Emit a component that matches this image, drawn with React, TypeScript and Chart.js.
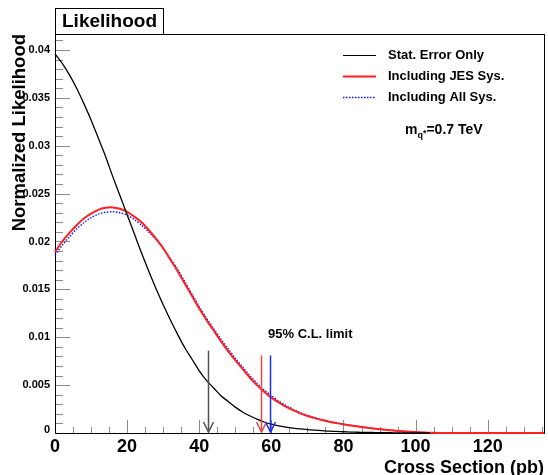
import React, { useEffect, useRef } from "react";
import { Chart, registerables } from "chart.js";
Chart.register(...registerables);

// ---------- data ----------
const xValues = [
  0, 2, 4, 6, 8, 10, 12, 14, 16, 18, 20, 22, 24, 26, 28, 30, 32, 34, 36, 38,
  40, 42, 44, 46, 48, 50, 52, 54, 56, 58, 60, 62, 64, 66, 68, 70, 72, 74, 76,
  78, 80, 82, 84, 86, 88, 90, 92, 94, 96, 98, 100, 102, 104,
];
const statOnly = [
  0.0396, 0.0386, 0.0374, 0.036, 0.0344, 0.0327, 0.0308, 0.0289, 0.0268, 0.0248,
  0.0228, 0.0208, 0.0188, 0.0169, 0.0151, 0.0134, 0.0118, 0.0103, 0.0089, 0.0077,
  0.0065, 0.0055, 0.0047, 0.0039, 0.0033, 0.0027, 0.0022, 0.0018, 0.00145, 0.00115,
  0.00092, 0.00075, 0.00062, 0.00051, 0.00042, 0.00035, 0.00029, 0.00024, 0.00019,
  0.00016, 0.00013, 0.0001, 0.00008, 0.00006, 0.00005, 0.00004, 0.00003, 0.00002,
  0.00002, 0.00001, 0.00001, 0, 0,
];
const jesSys = [
  0.0189, 0.02, 0.0209, 0.0217, 0.0224, 0.0229, 0.0233, 0.02352, 0.02356, 0.02342,
  0.0231, 0.0226, 0.022, 0.0212, 0.0203, 0.0193, 0.0181, 0.0169, 0.0156, 0.0143,
  0.013, 0.0118, 0.0107, 0.0096, 0.00855, 0.0076, 0.0067, 0.0058, 0.005, 0.0043,
  0.0037, 0.0032, 0.00275, 0.00238, 0.00205, 0.00178, 0.00155, 0.00135, 0.00118,
  0.00103, 0.0009, 0.00078, 0.00067, 0.00057, 0.00048, 0.0004, 0.00032, 0.00025,
  0.00019, 0.00014, 0.0001, 0.00006, 0.00003,
];
const allSys = [
  0.0186, 0.0196, 0.0205, 0.0213, 0.02195, 0.0225, 0.02285, 0.02305, 0.0231, 0.023,
  0.02275, 0.0223, 0.0217, 0.021, 0.0202, 0.0193, 0.0182, 0.0171, 0.0158, 0.0145,
  0.0132, 0.012, 0.0109, 0.0098, 0.0088, 0.0078, 0.0069, 0.006, 0.0052, 0.0045,
  0.0039, 0.00335, 0.00288, 0.00248, 0.00213, 0.00184, 0.0016, 0.0014, 0.00122,
  0.00107, 0.00094, 0.00081, 0.0007, 0.0006, 0.0005, 0.00041, 0.00033, 0.00026,
  0.0002, 0.00015, 0.0001, 0.00006, 0.00003,
];
const jesTailX = [108, 135.6];
const jesTailY = [0, 0];

const X_MIN = 0;
const X_MAX = 135.6;
const Y_MIN = 0;
const Y_MAX = 0.04167;

const xMajorTicks = [0, 20, 40, 60, 80, 100, 120];
const xTickLabels = ["0", "20", "40", "60", "80", "100", "120"];
const yMajorTicks = [0, 0.005, 0.01, 0.015, 0.02, 0.025, 0.03, 0.035, 0.04];
const yTickLabels = ["0", "0.005", "0.01", "0.015", "0.02", "0.025", "0.03", "0.035", "0.04"];

const legendLabels = ["Stat. Error Only", "Including JES Sys.", "Including All Sys."];
const limitX = [42.5, 57.1, 59.6];
const limitTop = [0.0086, 0.0081, 0.0081];
const limitColors = ["#505050", "#e04848", "#1a2cff"];

const FONT = '"Liberation Sans", Arial, sans-serif';

const rootPlugin = {
  id: "rootStyle",
  beforeDatasetsDraw(chart: any) {
    const ctx = chart.ctx as CanvasRenderingContext2D;
    const xs = chart.scales.x;
    const ys = chart.scales.y;
    const { left, right, top, bottom } = chart.chartArea;
    ctx.save();
    // frame
    ctx.strokeStyle = "#000";
    ctx.lineWidth = 1;
    ctx.strokeRect(Math.round(left) + 0.5, Math.round(top) + 0.5, Math.round(right - left), Math.round(bottom - top));

    // x ticks
    ctx.strokeStyle = "#8a8a8a";
    for (let v = 0; v <= X_MAX; v += 5) {
      const px = Math.round(xs.getPixelForValue(v)) + 0.5;
      const len = v % 20 === 0 ? 13 : 6;
      ctx.beginPath();
      ctx.moveTo(px, bottom);
      ctx.lineTo(px, bottom - len);
      ctx.stroke();
    }
    // y ticks
    for (let i = 0; i <= 41; i++) {
      const v = i * 0.001;
      const py = Math.round(ys.getPixelForValue(v)) + 0.5;
      const len = i % 5 === 0 ? 15 : 8;
      ctx.beginPath();
      ctx.moveTo(left, py);
      ctx.lineTo(left + len, py);
      ctx.stroke();
    }
    // axis lines on top of ticks
    ctx.strokeStyle = "#000";
    ctx.beginPath();
    ctx.moveTo(Math.round(left) + 0.5, top);
    ctx.lineTo(Math.round(left) + 0.5, bottom + 0.5);
    ctx.lineTo(right, Math.round(bottom) + 0.5);
    ctx.stroke();

    // tick labels
    ctx.fillStyle = "#000";
    ctx.font = `bold 18px ${FONT}`;
    ctx.textAlign = "center";
    ctx.textBaseline = "top";
    xMajorTicks.forEach((v, i) => {
      ctx.fillText(xTickLabels[i], xs.getPixelForValue(v), bottom + 5);
    });
    ctx.font = `bold 11px ${FONT}`;
    ctx.textAlign = "right";
    ctx.textBaseline = "middle";
    yMajorTicks.forEach((v, i) => {
      const py = ys.getPixelForValue(v);
      ctx.fillText(yTickLabels[i], left - 5, i === 0 ? py - 3 : py);
    });

    // axis titles
    ctx.font = `bold 18px ${FONT}`;
    ctx.textAlign = "right";
    ctx.textBaseline = "alphabetic";
    ctx.fillText("Cross Section (pb)", right, 473);
    ctx.save();
    ctx.translate(25, top);
    ctx.rotate(-Math.PI / 2);
    ctx.font = `bold 18.5px ${FONT}`;
    ctx.fillText("Normalized Likelihood", 0, 0);
    ctx.restore();

    // title box
    ctx.fillStyle = "#fff";
    ctx.fillRect(55, 8, 108, 26);
    ctx.strokeStyle = "#000";
    ctx.strokeRect(55.5, 8.5, 108, 26);
    ctx.fillStyle = "#000";
    ctx.font = `bold 19px ${FONT}`;
    ctx.textAlign = "center";
    ctx.textBaseline = "middle";
    ctx.fillText("Likelihood", 109.5, 22);

    // legend
    const legY = [55, 76, 97];
    const legStyles = [
      { c: "#000", w: 1.2, d: [] as number[] },
      { c: "#ff2020", w: 2, d: [] as number[] },
      { c: "#1010ff", w: 1.3, d: [1.5, 1.5] },
    ];
    ctx.font = `bold 13px ${FONT}`;
    ctx.textAlign = "left";
    legendLabels.forEach((lab, i) => {
      const s = legStyles[i];
      ctx.strokeStyle = s.c;
      ctx.lineWidth = s.w;
      ctx.setLineDash(s.d);
      ctx.beginPath();
      ctx.moveTo(343, legY[i] + 0.5);
      ctx.lineTo(376, legY[i] + 0.5);
      ctx.stroke();
      ctx.setLineDash([]);
      ctx.fillStyle = "#000";
      ctx.fillText(lab, 388, legY[i]);
    });

    // m_q* label
    ctx.textBaseline = "alphabetic";
    ctx.font = `bold 14px ${FONT}`;
    let tx = 405;
    ctx.fillText("m", tx, 134);
    tx += ctx.measureText("m").width;
    ctx.font = `bold 9px ${FONT}`;
    ctx.fillText("q", tx, 138);
    const qw = ctx.measureText("q").width;
    ctx.fillText("*", tx + qw, 136);
    tx += qw + ctx.measureText("*").width;
    ctx.font = `bold 14px ${FONT}`;
    ctx.fillText("=0.7 TeV", tx, 134);

    // 95% C.L. label
    ctx.font = `bold 13px ${FONT}`;
    ctx.textBaseline = "middle";
    ctx.fillText("95% C.L. limit", 268, 334);
    ctx.restore();
  },
  afterDatasetsDraw(chart: any) {
    const ctx = chart.ctx as CanvasRenderingContext2D;
    const xs = chart.scales.x;
    const ys = chart.scales.y;
    ctx.save();
    limitX.forEach((v, i) => {
      const px = Math.round(xs.getPixelForValue(v)) + 0.5;
      const y0 = ys.getPixelForValue(limitTop[i]);
      const y1 = ys.getPixelForValue(0) - 1;
      ctx.strokeStyle = limitColors[i];
      ctx.lineWidth = 1.5;
      ctx.beginPath();
      ctx.moveTo(px, y0);
      ctx.lineTo(px, y1);
      ctx.stroke();
      ctx.beginPath();
      ctx.moveTo(px - 5, y1 - 10);
      ctx.lineTo(px, y1);
      ctx.lineTo(px + 5, y1 - 10);
      ctx.stroke();
    });
    ctx.restore();
  },
};

export default function App() {
  const ref = useRef<HTMLCanvasElement | null>(null);
  useEffect(() => {
    if (!ref.current) return;
    const pts = (ys: number[]) => xValues.map((x, i) => ({ x, y: ys[i] }));
    const chart = new Chart(ref.current, {
      type: "line",
      data: {
        datasets: [
          {
            label: legendLabels[0],
            data: pts(statOnly),
            borderColor: "#000",
            borderWidth: 1.3,
            pointRadius: 0,
            tension: 0.3,
            clip: false,
          } as any,
          {
            label: legendLabels[1],
            data: [...pts(jesSys), ...jesTailX.map((x, i) => ({ x, y: jesTailY[i] }))],
            borderColor: "#ff2020",
            borderWidth: 2,
            pointRadius: 0,
            tension: 0.3,
            clip: false,
          } as any,
          {
            label: legendLabels[2],
            data: pts(allSys),
            borderColor: "#1010ff",
            borderWidth: 1.4,
            borderDash: [1.5, 1.5],
            pointRadius: 0,
            tension: 0.3,
            clip: false,
          } as any,
        ],
      },
      options: {
        responsive: false,
        animation: false,
        layout: { padding: { left: 55, right: 4, top: 34, bottom: 42 } },
        scales: {
          x: { type: "linear", min: X_MIN, max: X_MAX, display: false },
          y: { type: "linear", min: Y_MIN, max: Y_MAX, display: false },
        },
        plugins: { legend: { display: false }, tooltip: { enabled: false } },
      },
      plugins: [rootPlugin],
    });
    return () => chart.destroy();
  }, []);
  return (
    <div style={{ position: "absolute", left: 0, top: 0, width: 548, height: 475, background: "#fff" }}>
      <canvas ref={ref} width={548} height={475} style={{ width: 548, height: 475 }} />
    </div>
  );
}
